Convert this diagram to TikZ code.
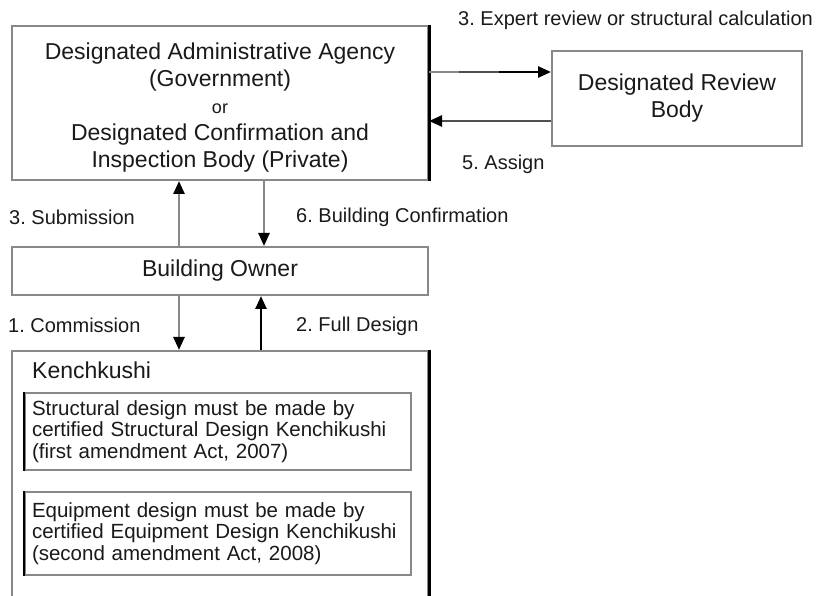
\documentclass[tikz,border=0pt]{standalone}
\usepackage{fontspec}
\setmainfont{Liberation Sans}
\usetikzlibrary{arrows.meta}
\definecolor{edgegray}{HTML}{888888}
\definecolor{darkline}{HTML}{505050}
\definecolor{txt}{HTML}{1A1A1A}
\frenchspacing
\begin{document}
\begin{tikzpicture}[x=1pt,y=-1pt,
  box/.style={draw=edgegray, line width=2pt, rectangle, inner sep=0pt, text=txt, align=center},
  bigfont/.style={font=\fontsize{23}{27}\selectfont},
  lbl/.style={inner sep=0pt, anchor=west, text=txt, font=\fontsize{20}{24}\selectfont},
  inbox/.style={draw=edgegray, line width=2pt, rectangle, inner xsep=7pt, inner ysep=0pt,
    text=txt, align=left, text width=372pt, minimum width=386pt,
    font=\fontsize{20.5}{21.5}\selectfont},
  arr/.style={line width=2.5pt, -{Triangle[width=11pt,length=13pt,color=black]}},
  blackedge/.style={draw=black, line width=3pt}
]
\useasboundingbox[fill=white] (0,0) rectangle (823,596);

% boxes
\node[box, bigfont, minimum width=416pt, minimum height=154pt] (agency) at (220,103)
  {\rule{0pt}{25pt}Designated Administrative Agency\\(Government)\\{\fontsize{18}{18}\selectfont or}\\Designated Confirmation and\\Inspection Body (Private)};
\draw[blackedge] (agency.north east) -- (agency.south east);

\node[box, bigfont, minimum width=250pt, minimum height=95pt] (review) at (677,98.5)
  {Designated Review\\Body};

\node[box, bigfont, minimum width=416pt, minimum height=48pt] (owner) at (220,271)
  {Building Owner};

\node[box, minimum width=416pt, minimum height=268pt] (ken) at (220,485) {};
\draw[blackedge] (ken.north east) -- (ken.south east);
\node[inner sep=0pt, anchor=west, text=txt, bigfont] (kentitle) at (32,370) {Kenchkushi};

\node[inbox, minimum height=77pt] (struct) at (218,431.5)
  {Structural design must be made by\\certified Structural Design Kenchikushi\\(first amendment Act, 2007)};
\draw[blackedge, line width=2.5pt] (struct.north west) -- (struct.south west);

\node[inbox, minimum height=83pt] (equip) at (218,533.5)
  {Equipment design must be made by\\certified Equipment Design Kenchikushi\\(second amendment Act, 2008)\\[6pt]};
\draw[blackedge, line width=2.5pt] (equip.north west) -- (equip.south west);

% horizontal connectors
\coordinate (aTop) at ([yshift=31pt]agency.east);
\coordinate (aBot) at ([yshift=-18pt]agency.east);
\draw[arr, black] (aTop) -- (aTop -| review.west);
\draw[edgegray, line width=2.5pt] (aTop) -- ([xshift=30pt]aTop);
\draw[darkline, line width=2.5pt] ([xshift=30pt]aTop) -- ([xshift=70pt]aTop);
\draw[arr, darkline] (aBot -| review.west) -- (aBot);

% vertical connectors
\draw[arr, edgegray] ([xshift=-41pt]owner.north) -- ([xshift=-41pt]agency.south);
\draw[arr, edgegray] ([xshift=44pt]agency.south) -- ([xshift=44pt]owner.north);
\draw[arr, edgegray] ([xshift=-41pt]owner.south) -- ([xshift=-41pt]ken.north);
\draw[arr, black] ([xshift=41pt]ken.north) -- ([xshift=41pt]owner.south);

% labels
\node[lbl] (l3e) at (458,20) {3. Expert review or structural calculation};
\node[lbl] (l5) at (462,164) {5. Assign};
\node[lbl] (l3s) at (9,217) {3. Submission};
\node[lbl] (l6) at (296,217) {6. Building Confirmation};
\node[lbl] (l1) at (8,325) {1. Commission};
\node[lbl] (l2) at (296,326) {2. Full Design};
\end{tikzpicture}
\end{document}
